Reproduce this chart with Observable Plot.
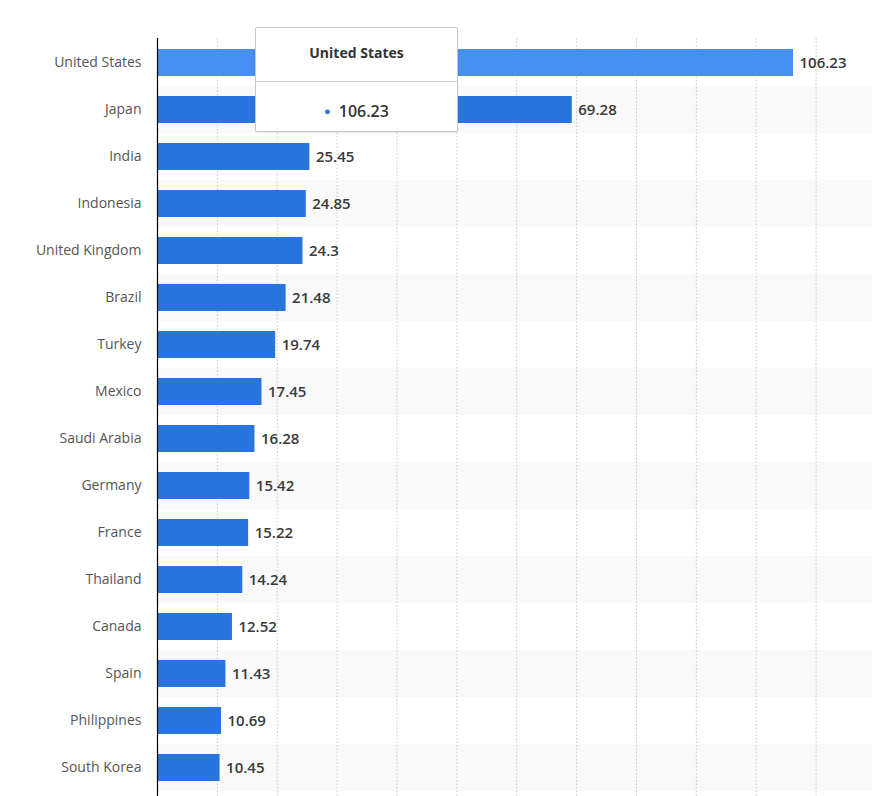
<!DOCTYPE html>
<html>
<head>
<meta charset="utf-8">
<script src="https://cdn.jsdelivr.net/npm/d3@7"></script>
<script src="https://cdn.jsdelivr.net/npm/@observablehq/plot@0.6"></script>
<style>
  html, body { margin: 0; padding: 0; background: #fff; }
  #wrap { position: relative; width: 872px; height: 796px; overflow: hidden; font-family: "Open Sans", sans-serif; }
  #tip {
    position: absolute; left: 255px; top: 27px; width: 203px; height: 105px;
    background: #fff; border: 1px solid #c8c8c8; border-radius: 2px;
    box-shadow: 0 1px 2px rgba(0,0,0,0.08); box-sizing: border-box;
    font-family: "Open Sans", sans-serif; color: #333;
  }
  #tip .t { height: 53px; line-height: 49px; text-align: center; font-weight: 700; font-size: 14px; border-bottom: 1px solid #cfcfcf; }
  #tip .v { text-align: center; font-size: 16px; font-weight: 600; line-height: 58px; color: #333; }
  #tip .v span { color: #2876dd; font-size: 11px; margin-right: 8px; vertical-align: 2px; }
</style>
</head>
<body>
<div id="wrap"></div>
<script>
const countries = ["United States","Japan","India","Indonesia","United Kingdom","Brazil","Turkey","Mexico","Saudi Arabia","Germany","France","Thailand","Canada","Spain","Philippines","South Korea"];
const values = [106.23,69.28,25.45,24.85,24.3,21.48,19.74,17.45,16.28,15.42,15.22,14.24,12.52,11.43,10.69,10.45];
const gridTicks = [10,20,30,40,50,60,70,80,90,100,110];
const highlighted = "United States";

const data = countries.map((c, i) => ({country: c, value: values[i], idx: i}));
const bands = data.filter(d => d.idx % 2 === 1);

const chart = Plot.plot({
  width: 872,
  height: 796,
  marginLeft: 157,
  marginRight: 0,
  marginTop: 38,
  marginBottom: 0,
  style: {fontFamily: "Open Sans, sans-serif", background: "#fff"},
  x: {domain: [0, 119.42], axis: null},
  y: {type: "band", domain: countries, range: [39, 791], padding: 0, label: null, tickSize: 0, tickPadding: 16},
  marks: [
    Plot.barX(bands, {y: "country", x1: 0, x2: 119.42, fill: "#f9f9f9"}),
    Plot.ruleX(gridTicks, {stroke: "#c9c9c9", strokeDasharray: "1.5,2", strokeWidth: 1}),
    Plot.barX(data, {y: "country", x: "value", fill: d => d.country === highlighted ? "#4590f1" : "#2876dd", insetTop: 10, insetBottom: 10}),
    Plot.text(data, {y: "country", x: "value", text: d => String(d.value), textAnchor: "start", dx: 6, fill: "#3a3a3a", fontSize: 15, fontWeight: 600}),
    Plot.ruleX([0], {stroke: "#000", strokeWidth: 1.2}),
    Plot.axisY({tickSize: 0, tickPadding: 16, fontSize: 14, color: "#555", label: null})
  ]
});
const wrap = document.getElementById("wrap");
wrap.appendChild(chart);

const tip = document.createElement("div");
tip.id = "tip";
const v = data.find(d => d.country === highlighted);
tip.innerHTML = `<div class="t">${v.country}</div><div class="v"><span>●</span>${v.value}</div>`;
wrap.appendChild(tip);
</script>
</body>
</html>
